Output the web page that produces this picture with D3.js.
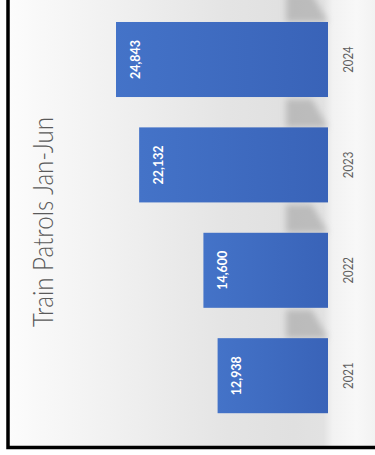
<!DOCTYPE html>
<html>
<head>
<meta charset="utf-8">
<script src="https://cdn.jsdelivr.net/npm/d3@7"></script>
<style>
  html, body { margin: 0; padding: 0; background: #ffffff; }
  svg { display: block; }
</style>
</head>
<body>
<svg id="chart" width="375" height="455"></svg>
<script>
// Train patrols, January to June, by year
const years = ["2021", "2022", "2023", "2024"];
const patrols = [12938, 14600, 22132, 24843];
const title = "Train Patrols Jan-Jun";

const W = 375, H = 455;
const svg = d3.select("#chart");
const defs = svg.append("defs");

// Slide background: pale on the left, greying towards the bar base, light strip behind the year labels
const bg = defs.append("linearGradient").attr("id", "bg").attr("x1", 0).attr("x2", 1).attr("y1", 0).attr("y2", 0);
[[0, "#fcfcfc"], [0.12, "#f7f7f7"], [0.35, "#eeeeee"], [0.6, "#e4e4e4"], [0.78, "#e0e0e0"], [0.86, "#e2e2e2"], [0.885, "#f2f2f2"], [0.95, "#f8f8f8"], [1, "#f2f2f2"]]
  .forEach(([o, c]) => bg.append("stop").attr("offset", o).attr("stop-color", c));

const barGrad = defs.append("linearGradient").attr("id", "barFill").attr("x1", 0).attr("x2", 1).attr("y1", 0).attr("y2", 0);
barGrad.append("stop").attr("offset", 0).attr("stop-color", "#4473c8");
barGrad.append("stop").attr("offset", 1).attr("stop-color", "#3963b8");

defs.append("filter").attr("id", "soft").attr("x", "-50%").attr("y", "-50%").attr("width", "200%").attr("height", "200%")
  .append("feGaussianBlur").attr("stdDeviation", 3);

svg.append("rect").attr("x", 8).attr("y", 0).attr("width", W - 8).attr("height", 447).attr("fill", "url(#bg)");

// Scales: values run right-to-left from the base, years stacked top (latest) to bottom
const x = d3.scaleLinear().domain([0, 30000]).range([328, 72]);
const y = d3.scaleBand().domain(years).range([428.6, 6.6]).paddingInner(0.288).paddingOuter(0.146);
const bw = y.bandwidth();
const gap = y.step() - bw;

// Soft shadows falling in the gaps next to the bar base
const shadowY = years.map(d => y(d) - gap);
svg.append("g").attr("filter", "url(#soft)")
  .selectAll("path").data(shadowY).join("path")
  .attr("d", t => {
    const b = t + gap;
    return `M${x(0) - 42},${t + 2} L${x(0) - 16},${t + 2} L${x(0)},${b} L${x(0) - 42},${b} Z`;
  })
  .attr("fill", "#a3a3a3").attr("opacity", 0.6);

// Bars
svg.append("g").selectAll("rect").data(years).join("rect")
  .attr("x", (d, i) => x(patrols[i]))
  .attr("y", d => y(d))
  .attr("width", (d, i) => x(0) - x(patrols[i]))
  .attr("height", bw)
  .attr("fill", "url(#barFill)");

// Value labels, inside the far end of each bar
const fmt = d3.format(",");
svg.append("g").selectAll("text").data(years).join("text")
  .attr("transform", (d, i) => `translate(${x(patrols[i]) + 23.5},${y(d) + bw / 2}) rotate(-90)`)
  .attr("text-anchor", "middle")
  .attr("font-family", "Lato, 'Open Sans', sans-serif")
  .attr("font-weight", "bold")
  .attr("font-size", 14)
  .attr("textLength", 39).attr("lengthAdjust", "spacingAndGlyphs")
  .attr("fill", "#ffffff")
  .text((d, i) => fmt(patrols[i]));

// Category labels beside the bar base
svg.append("g").selectAll("text").data(years).join("text")
  .attr("transform", d => `translate(352.5,${y(d) + bw / 2}) rotate(-90)`)
  .attr("text-anchor", "middle")
  .attr("font-family", "Lato, 'Open Sans', sans-serif")
  .attr("font-size", 13.5)
  .attr("textLength", 26.5).attr("lengthAdjust", "spacingAndGlyphs")
  .attr("fill", "#5f5f5f")
  .text(d => d);

// Title
svg.append("text")
  .attr("transform", "translate(53,222) rotate(-90)")
  .attr("text-anchor", "middle")
  .attr("font-family", "Lato, 'Open Sans', sans-serif")
  .attr("font-weight", 300)
  .attr("font-size", 28)
  .attr("textLength", 210).attr("lengthAdjust", "spacingAndGlyphs")
  .attr("fill", "#5a5a5a")
  .text(title);

// Frame: heavy rule on the left and bottom edges
svg.append("path")
  .attr("d", "M8,0 L8,447.5 L375,447.5")
  .attr("fill", "none").attr("stroke", "#000000").attr("stroke-width", 3.5);
</script>
</body>
</html>
